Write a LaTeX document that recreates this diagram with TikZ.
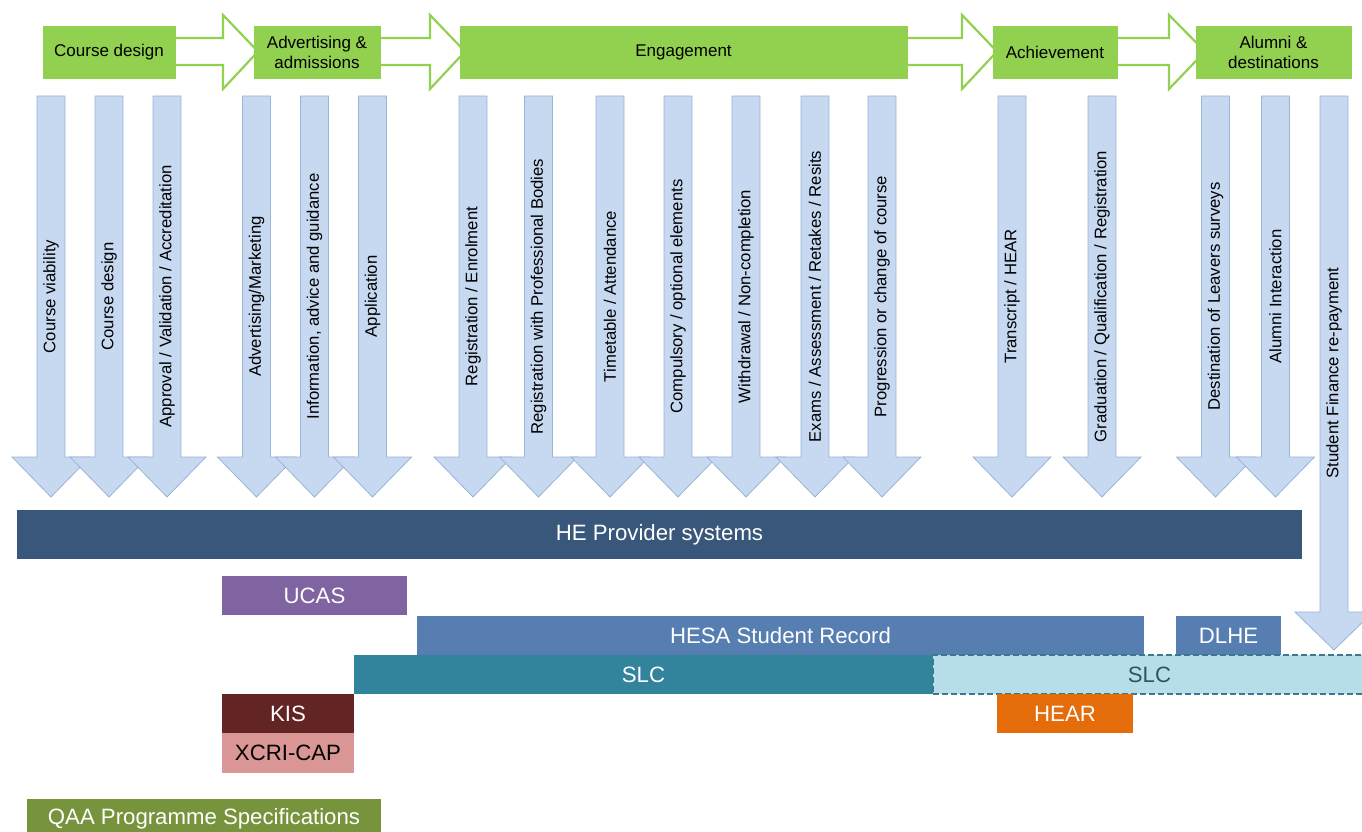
\documentclass[tikz,border=0pt]{standalone}
\usepackage{fontspec}
\setmainfont{Liberation Sans}
\definecolor{grn}{HTML}{92D050}
\definecolor{arrfill}{HTML}{C6D9F1}
\definecolor{arrline}{HTML}{9AB4D6}
\definecolor{hebar}{RGB}{56,87,122}
\definecolor{ucas}{HTML}{8064A2}
\definecolor{hesa}{RGB}{86,126,177}
\definecolor{slcd}{HTML}{31849B}
\definecolor{slcl}{HTML}{B7DEE8}
\definecolor{slcdash}{RGB}{60,120,140}
\definecolor{slctext}{RGB}{38,88,104}
\definecolor{kis}{HTML}{632523}
\definecolor{xcri}{HTML}{D99694}
\definecolor{hear}{HTML}{E46C0A}
\definecolor{qaa}{HTML}{77933C}
\tikzset{
  phase/.style={fill=grn, draw=grn, text=black, font=\fontsize{17}{20}\selectfont, align=center, inner sep=0pt},
  flow/.style={draw=grn, line width=2.2pt, fill=white, line join=miter},
  darr/.style={fill=arrfill, draw=arrline, line width=0.8pt},
  dlab/.style={rotate=90, font=\fontsize{16.7}{19}\selectfont, inner sep=0pt, text=black},
  bar/.style={inner sep=0pt, font=\fontsize{22.2}{26}\selectfont, text=white},
}
\newcommand\Rbox[7]{%
  \pgfmathsetmacro\rbx{(#2+#4)/2}%
  \pgfmathsetmacro\rby{(#3+#5)/2}%
  \pgfmathsetmacro\rbw{#4-#2}%
  \pgfmathsetmacro\rbh{#5-#3}%
  \node[#6, minimum width=\rbw pt, minimum height=\rbh pt] (#1) at (\rbx,\rby) {#7};}
\newcommand\DArr[5]{%
  \draw[darr] ({#2-14},96) -- ({#2+14},96) -- ({#2+14},#3) -- ({#2+39},#3) -- (#2,#4) -- ({#2-39},#3) -- ({#2-14},#3) -- cycle;
  \node[dlab] (#1) at (#2,{(96+#4)/2}) {#5};}
\newcommand\Flow[3]{% start x, head base x, tip x
  \draw[flow] (#1,38) -- (#2,38) -- (#2,15) -- (#3,51.5) -- (#2,89) -- (#2,65) -- (#1,65) -- cycle;}
\begin{document}
\begin{tikzpicture}[x=1pt,y=-1pt]
\useasboundingbox (0,0) rectangle (1362,832);
% flow arrows between phases
\Flow{170}{223}{258}
\Flow{375}{430}{465}
\Flow{900}{962}{997}
\Flow{1110}{1169}{1205}
% phases
\Rbox{pcd}{43}{26}{175}{78}{phase}{Course design}
\Rbox{pad}{254}{26}{380}{78}{phase}{Advertising \&\\admissions}
\Rbox{pen}{460}{26}{907}{78}{phase}{Engagement}
\Rbox{pac}{993}{26}{1117}{78}{phase}{Achievement}
\Rbox{pal}{1196}{26}{1351}{78}{phase}{Alumni \&\\destinations}
% down arrows
\DArr{a1}{51}{457}{497}{Course viability}
\DArr{a2}{109}{457}{497}{Course design}
\DArr{a3}{167}{457}{497}{Approval / Validation / Accreditation}
\DArr{a4}{256.5}{457}{497}{Advertising/Marketing}
\DArr{a5}{314.5}{457}{497}{Information, advice and guidance}
\DArr{a6}{372.5}{457}{497}{Application}
\DArr{a7}{473}{457}{497}{Registration / Enrolment}
\DArr{a8}{538.5}{457}{497}{Registration with Professional Bodies}
\DArr{a9}{610}{457}{497}{Timetable / Attendance}
\DArr{a10}{678}{457}{497}{Compulsory / optional elements}
\DArr{a11}{746}{457}{497}{Withdrawal / Non-completion}
\DArr{a12}{815}{457}{497}{Exams / Assessment / Retakes / Resits}
\DArr{a13}{882}{457}{497}{Progression or change of course}
\DArr{a14}{1012}{457}{497}{Transcript / HEAR}
\DArr{a15}{1102}{457}{497}{Graduation / Qualification / Registration}
\DArr{a16}{1215.5}{457}{497}{Destination of Leavers surveys}
\DArr{a17}{1275.5}{457}{497}{Alumni Interaction}
\DArr{a18}{1334}{612}{650}{Student Finance re-payment}
% systems
\Rbox{he}{17}{510}{1302}{559}{bar, fill=hebar}{HE Provider systems}
\Rbox{ucas}{222}{576}{407}{615}{bar, fill=ucas}{UCAS}
\Rbox{hesa}{417}{616}{1144}{655}{bar, fill=hesa}{HESA Student Record}
\Rbox{dlhe}{1176}{616}{1281}{655}{bar, fill=hesa}{DLHE}
\Rbox{slc1}{354}{655}{933}{694}{bar, fill=slcd}{SLC}
\Rbox{slc2}{933}{655}{1366}{694}{bar, fill=slcl, draw=slcdash, line width=1.2pt, dash pattern=on 6pt off 3pt, text=slctext}{SLC}
\Rbox{kis}{222}{694}{354}{733}{bar, fill=kis}{KIS}
\Rbox{xcri}{222}{733}{354}{773}{bar, fill=xcri, text=black}{XCRI-CAP}
\Rbox{hear}{997}{694}{1133}{733}{bar, fill=hear}{HEAR}
\Rbox{qaa}{27}{799}{381}{839}{bar, fill=qaa}{QAA Programme Specifications}
\end{tikzpicture}
\end{document}
